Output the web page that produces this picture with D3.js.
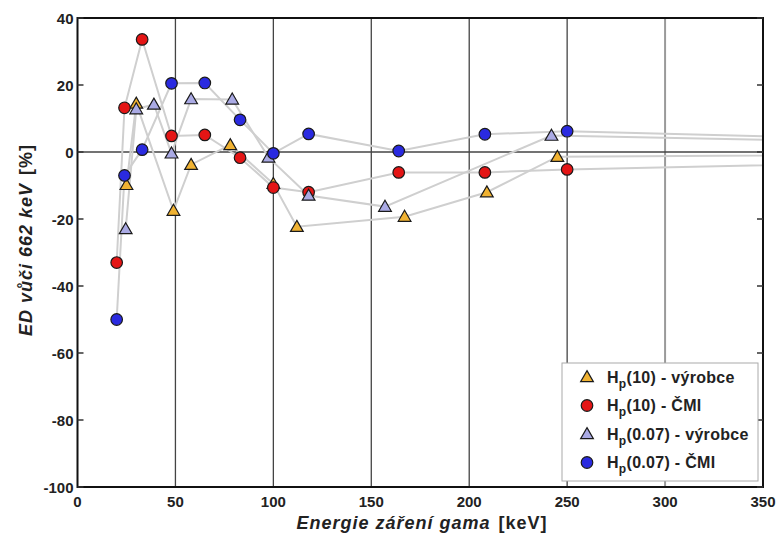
<!DOCTYPE html>
<html>
<head>
<meta charset="utf-8">
<script src="https://cdn.jsdelivr.net/npm/d3@7"></script>
<style>
  body { margin: 0; background: #fff; }
  svg text { font-family: "Liberation Sans", Arial, sans-serif; font-weight: bold; fill: #222; }
</style>
</head>
<body>
<svg id="chart" width="780" height="536"></svg>
<script>
// data (energy keV, deviation %)
const hp10VyrE   = [25, 30, 49, 58, 78, 100, 112, 167, 209, 245, 662];
const hp10VyrV   = [-9.8, 14.5, -17.5, -3.8, 2.1, -9.5, -22.3, -19.3, -12, -1.4, 0];
const hp10CmiE   = [20, 24, 33, 48, 65, 83, 100, 118, 164, 208, 250, 662];
const hp10CmiV   = [-33, 13.2, 33.6, 4.8, 5.1, -1.7, -10.6, -12, -6.1, -6.1, -5.2, 0];
const hp007VyrE  = [24.6, 30, 39, 48, 58, 79, 97.5, 118, 157, 242, 662];
const hp007VyrV  = [-23, 12.8, 14.2, -0.4, 15.8, 15.7, -1.6, -13, -16.3, 4.9, 0];
const hp007CmiE  = [20, 24, 33, 48, 65, 83, 100, 118, 164, 208, 250, 662];
const hp007CmiV  = [-50, -7, 0.7, 20.5, 20.6, 9.6, -0.4, 5.4, 0.3, 5.3, 6.2, 0];

const xTicks = [0, 50, 100, 150, 200, 250, 300, 350];
const yTicks = [40, 20, 0, -20, -40, -60, -80, -100];

const series = [
  { name: "(10) - výrobce",   shape: "tri",    color: "#f0b232", E: hp10VyrE,  V: hp10VyrV },
  { name: "(10) - ČMI",       shape: "circle", color: "#e41515", E: hp10CmiE,  V: hp10CmiV },
  { name: "(0.07) - výrobce", shape: "tri",    color: "#aaaae4", E: hp007VyrE, V: hp007VyrV },
  { name: "(0.07) - ČMI",     shape: "circle", color: "#2a2ae0", E: hp007CmiE, V: hp007CmiV }
];

const svg = d3.select("#chart");
const x = d3.scaleLinear().domain([0, 350]).range([77.5, 763]);
const y = d3.scaleLinear().domain([-100, 40]).range([487, 18]);

svg.append("clipPath").attr("id", "plot")
  .append("rect")
    .attr("x", x(0)).attr("y", y(40))
    .attr("width", x(350) - x(0)).attr("height", y(-100) - y(40));

// vertical grid
svg.append("g").selectAll("line")
  .data(xTicks.slice(1, -1)).enter().append("line")
    .attr("x1", d => x(d)).attr("x2", d => x(d))
    .attr("y1", y(40)).attr("y2", y(-100))
    .attr("stroke", d => d === 300 ? "#9a9a9a" : "#444")
    .attr("stroke-width", d => d === 300 ? 2 : 1.3);

// zero line
svg.append("line")
  .attr("x1", x(0)).attr("x2", x(350))
  .attr("y1", y(0)).attr("y2", y(0))
  .attr("stroke", "#444").attr("stroke-width", 1.5);

// connecting lines
const line = d3.line().x(d => x(d[0])).y(d => y(d[1]));
const lineG = svg.append("g").attr("clip-path", "url(#plot)");
series.forEach(s => {
  lineG.append("path")
    .datum(s.E.map((e, i) => [e, s.V[i]]))
    .attr("d", line)
    .attr("fill", "none")
    .attr("stroke", "#cfcfcf")
    .attr("stroke-width", 2);
});

// markers
const tri = d3.symbol().type(d3.symbolTriangle).size(70);
const circ = d3.symbol().type(d3.symbolCircle).size(105);
const markG = svg.append("g").attr("clip-path", "url(#plot)");
series.forEach(s => {
  markG.selectAll(null)
    .data(s.E.map((e, i) => [e, s.V[i]])).enter().append("path")
      .attr("d", s.shape === "tri" ? tri : circ)
      .attr("transform", d => `translate(${x(d[0])},${y(d[1]) + (s.shape === "tri" ? 1 : 0)})`)
      .attr("fill", s.color)
      .attr("stroke", "#1a1a1a")
      .attr("stroke-width", 1.2);
});

// frame
svg.append("rect")
  .attr("x", x(0)).attr("y", y(40))
  .attr("width", x(350) - x(0)).attr("height", y(-100) - y(40))
  .attr("fill", "none").attr("stroke", "#111").attr("stroke-width", 2);

// y ticks (inside, both sides)
const yt = svg.append("g");
yTicks.forEach(t => {
  yt.append("line").attr("x1", x(0)).attr("x2", x(0) + 6)
    .attr("y1", y(t)).attr("y2", y(t)).attr("stroke", "#333").attr("stroke-width", 1.5);
  yt.append("line").attr("x1", x(350) - 6).attr("x2", x(350))
    .attr("y1", y(t)).attr("y2", y(t)).attr("stroke", "#333").attr("stroke-width", 1.5);
  yt.append("text")
    .attr("x", x(0) - 4).attr("y", y(t) + 5.5)
    .attr("text-anchor", "end").attr("font-size", 15)
    .text(t);
});

// x tick labels
svg.append("g").selectAll("text")
  .data(xTicks).enter().append("text")
    .attr("x", d => x(d)).attr("y", 507)
    .attr("text-anchor", "middle").attr("font-size", 15)
    .text(d => d);

// axis titles
svg.append("text")
  .attr("x", 422).attr("y", 529)
  .attr("text-anchor", "middle").attr("font-size", 18).attr("letter-spacing", 1)
  .html('<tspan font-style="italic">Energie záření gama</tspan><tspan dx="8">[keV]</tspan>');

svg.append("text")
  .attr("transform", `translate(32,240) rotate(-90)`)
  .attr("text-anchor", "middle").attr("font-size", 18).attr("letter-spacing", 1)
  .html('<tspan font-style="italic">ED vůči 662 keV</tspan><tspan dx="8">[%]</tspan>');

// legend
const lg = svg.append("g");
lg.append("rect")
  .attr("x", 562).attr("y", 363).attr("width", 196).attr("height", 118)
  .attr("fill", "#fff").attr("stroke", "#aaa").attr("stroke-width", 1);
series.forEach((s, i) => {
  const cy = 377 + i * 28.5;
  lg.append("path")
    .attr("d", s.shape === "tri" ? tri : circ)
    .attr("transform", `translate(587,${cy + (s.shape === "tri" ? 1 : 0)})`)
    .attr("fill", s.color).attr("stroke", "#1a1a1a").attr("stroke-width", 1.2);
  const t = lg.append("text").attr("x", 607).attr("y", cy + 5.5)
    .attr("font-size", 16).attr("letter-spacing", 0.3);
  t.append("tspan").text("H");
  t.append("tspan").attr("font-size", 12).attr("dy", 5).text("p");
  t.append("tspan").attr("dy", -5).text(s.name);
});
</script>
</body>
</html>
